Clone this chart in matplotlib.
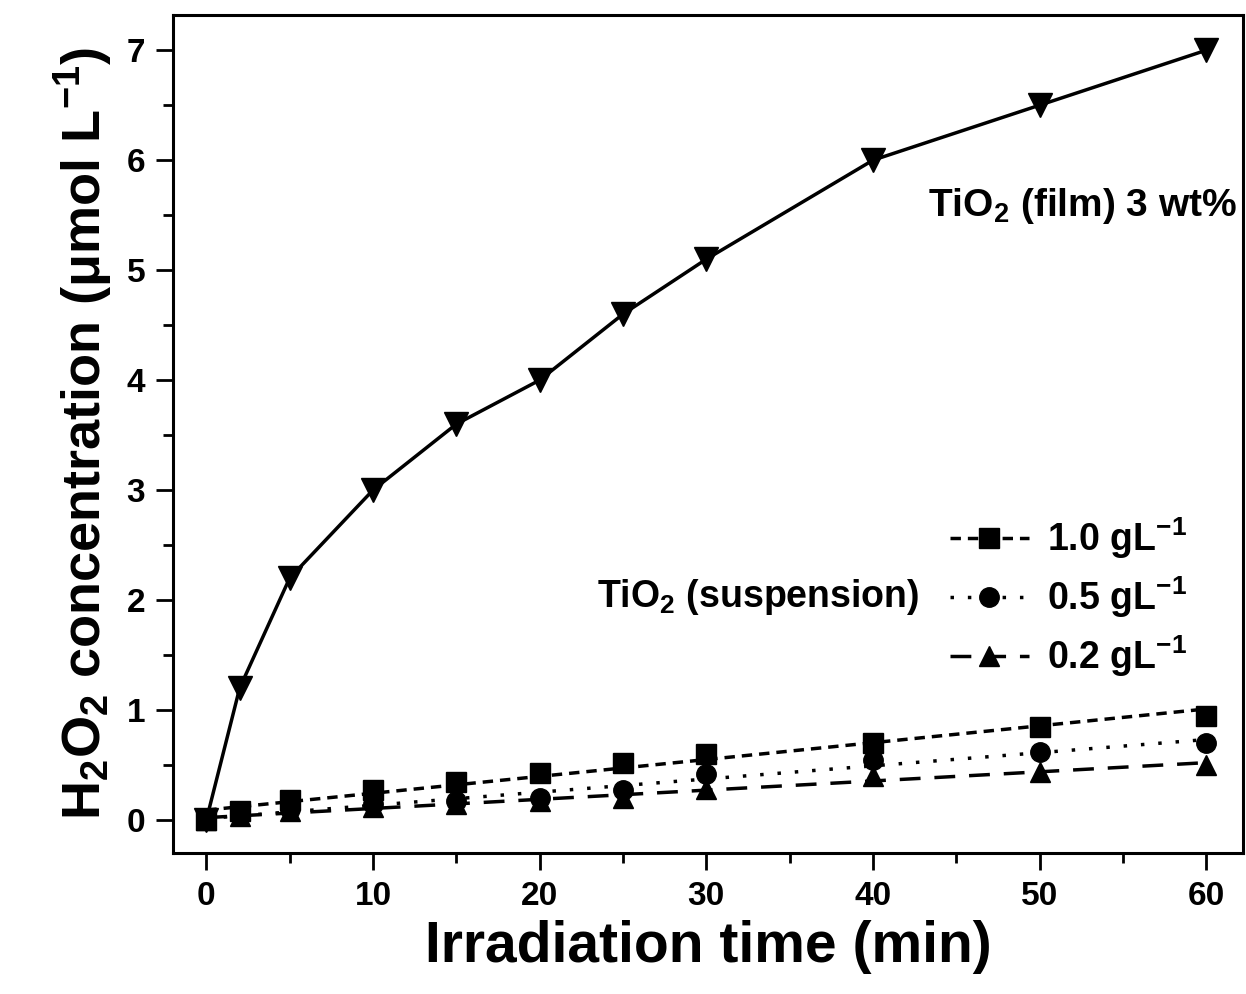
import numpy as np
import matplotlib.pyplot as plt
from matplotlib.ticker import MultipleLocator

# data
time_min = [0, 2, 5, 10, 15, 20, 25, 30, 40, 50, 60]
film_3wt = [0.0, 1.2, 2.2, 3.0, 3.6, 4.0, 4.6, 5.1, 6.0, 6.5, 7.0]
susp_10 = [0.0, 0.08, 0.18, 0.27, 0.35, 0.43, 0.52, 0.60, 0.70, 0.85, 0.95]
susp_05 = [0.0, 0.05, 0.10, 0.15, 0.17, 0.20, 0.27, 0.42, 0.55, 0.62, 0.70]
susp_02 = [0.0, 0.04, 0.08, 0.12, 0.15, 0.17, 0.20, 0.28, 0.40, 0.44, 0.50]

plt.rcParams['font.family'] = ['Liberation Sans', 'DejaVu Sans']
plt.rcParams['font.weight'] = 'bold'
plt.rcParams['mathtext.default'] = 'regular'

fig = plt.figure(figsize=(12.46, 9.94), dpi=100)
ax = fig.add_axes([173 / 1246, 1 - 853 / 994, (1243 - 173) / 1246, (853 - 15) / 994])

t = np.array(time_min)

# film: connected curve
ax.plot(t, film_3wt, '-', color='black', lw=2.5, marker='v', ms=17)

# suspensions: linear fits + markers
styles = [
    (susp_10, 's', (0, (3, 2)), '1.0 gL$^{-1}$'),
    (susp_05, 'o', (0, (1, 4)), '0.5 gL$^{-1}$'),
    (susp_02, '^', (0, (6, 4)), '0.2 gL$^{-1}$'),
]
handles = []
for y, mk, ls, lab in styles:
    z = np.polyfit(t, y, 1)
    ax.plot(t, np.polyval(z, t), linestyle=ls, color='black', lw=2.5)
    ax.plot(t, y, linestyle='none', marker=mk, color='black', ms=14)
    h, = ax.plot([], [], linestyle=ls, color='black', lw=2.5, marker=mk, ms=14)
    handles.append(h)

leg = ax.legend(handles, [s[3] for s in styles], loc='center left',
                bbox_to_anchor=(0.712, 0.305), frameon=False, fontsize=27,
                borderaxespad=0, handlelength=2.1, handletextpad=0.5,
                labelspacing=0.35)

ax.text(0.995, 0.772, 'TiO$_2$ (film) 3 wt%', transform=ax.transAxes,
        ha='right', va='center', fontsize=28, fontweight='bold')
ax.text(0.698, 0.305, 'TiO$_2$ (suspension)', transform=ax.transAxes,
        ha='right', va='center', fontsize=27, fontweight='bold')

ax.set_xlim(-2, 62.2)
ax.set_ylim(-0.3, 7.32)
ax.xaxis.set_major_locator(MultipleLocator(10))
ax.xaxis.set_minor_locator(MultipleLocator(5))
ax.yaxis.set_major_locator(MultipleLocator(1))
ax.yaxis.set_minor_locator(MultipleLocator(0.5))
ax.tick_params(which='major', direction='out', length=12, width=2, labelsize=24, pad=8)
ax.tick_params(which='minor', direction='out', length=7, width=2)
for sp in ax.spines.values():
    sp.set_linewidth(2.2)
for lab in ax.get_xticklabels() + ax.get_yticklabels():
    lab.set_fontweight('bold')

ax.set_xlabel('Irradiation time (min)', fontsize=41, fontweight='bold', labelpad=6)
ax.set_ylabel('H$_2$O$_2$ concentration ($\\mu$mol L$^{-1}$)', fontsize=39,
              fontweight='bold', labelpad=8)

fig.savefig('out.png', dpi=100)
